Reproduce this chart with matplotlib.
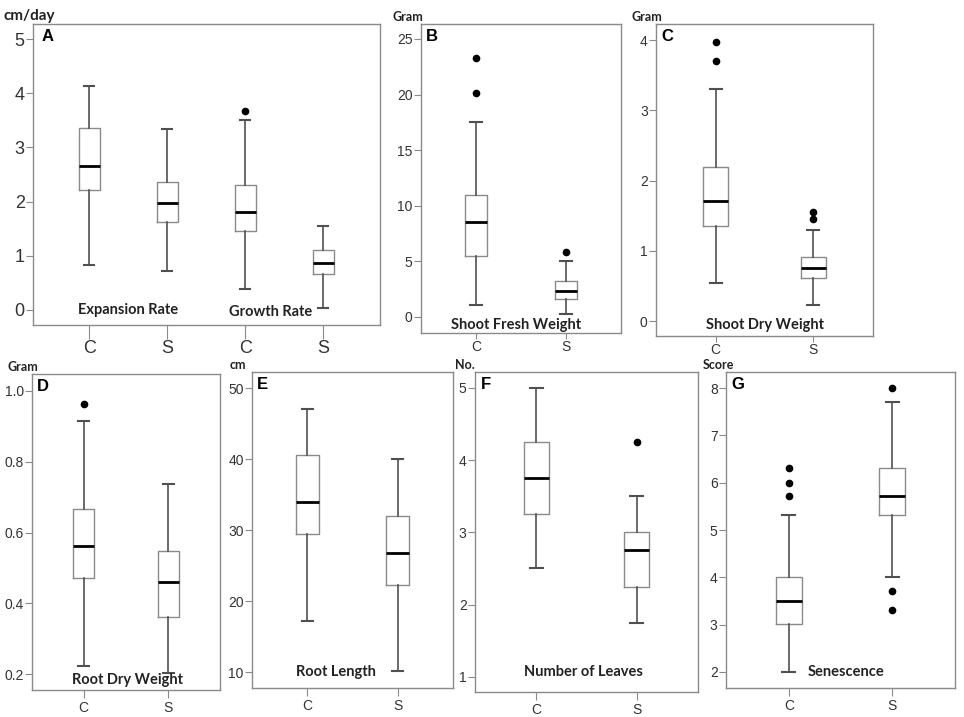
import matplotlib
matplotlib.use("Agg")
import matplotlib.pyplot as plt

# ── Box statistics: [whislo, q1, med, q3, whishi] ──
EXPANSION_C = [0.83, 2.21, 2.66, 3.36, 4.14]
EXPANSION_S = [0.71, 1.63, 1.97, 2.36, 3.35]
GROWTH_C = [0.38, 1.45, 1.80, 2.31, 3.51]
GROWTH_S = [0.04, 0.66, 0.86, 1.10, 1.55]
GROWTH_C_OUT = [3.68]

FRESH_C = [1.11, 5.49, 8.51, 11.0, 17.57]
FRESH_S = [0.30, 1.62, 2.37, 3.21, 5.0]
FRESH_C_OUT = [23.3, 20.1]
FRESH_S_OUT = [5.82]

DRY_C = [0.55, 1.35, 1.71, 2.19, 3.30]
DRY_S = [0.23, 0.61, 0.76, 0.92, 1.30]
DRY_C_OUT = [3.97, 3.71]
DRY_S_OUT = [1.56, 1.46]

ROOTDRY_C = [0.222, 0.471, 0.562, 0.666, 0.915]
ROOTDRY_S = [0.204, 0.362, 0.460, 0.549, 0.737]
ROOTDRY_C_OUT = [0.963]

ROOTLEN_C = [17.2, 29.4, 33.9, 40.5, 47.0]
ROOTLEN_S = [10.1, 22.3, 26.8, 32.0, 40.0]

LEAVES_C = [2.5, 3.26, 3.75, 4.25, 5.0]
LEAVES_S = [1.75, 2.25, 2.75, 3.0, 3.5]
LEAVES_S_OUT = [4.25]

SEN_C = [2.0, 3.01, 3.51, 4.0, 5.31]
SEN_S = [4.01, 5.32, 5.71, 6.31, 7.7]
SEN_C_OUT = [6.31, 6.0, 5.71]
SEN_S_OUT = [8.0, 3.71, 3.31]

GROUPS = ["C", "S"]

BOX_EDGE = "#8a8a8a"
WHISK = "#505050"
SPINE = "#8a8a8a"
TICK_TXT = "#333333"
LABEL_FONT = ["Lato", "DejaVu Sans"]
TICK_FONT = ["Liberation Sans", "DejaVu Sans"]


def stats(vals, fliers=()):
    lo, q1, med, q3, hi = vals
    return dict(whislo=lo, q1=q1, med=med, q3=q3, whishi=hi, fliers=list(fliers))


def draw(ax, boxes, xlabels, ylim, yticks, ytl, letter, unit, unit_x, inner, tick_fs=10,
         xtick_fs=10, xlim=(0.39, 2.61), width=0.25, xtick_len=6, unit_fs=9, xpad=2):
    ax.bxp(boxes, positions=range(1, len(boxes) + 1), widths=width, showfliers=True,
           boxprops=dict(color=BOX_EDGE, linewidth=1.0),
           whiskerprops=dict(color=WHISK, linewidth=1.2),
           capprops=dict(color=WHISK, linewidth=1.5),
           medianprops=dict(color="black", linewidth=2.0),
           flierprops=dict(marker="o", markerfacecolor="black", markeredgecolor="black",
                           markersize=4.5))
    ax.set_xlim(*xlim)
    ax.set_ylim(*ylim)
    ax.set_yticks(yticks)
    ax.set_yticklabels(ytl, fontsize=tick_fs, color=TICK_TXT, family=TICK_FONT)
    ax.set_xticks(range(1, len(boxes) + 1))
    ax.set_xticklabels(xlabels, fontsize=xtick_fs, color=TICK_TXT, family=TICK_FONT)
    ax.tick_params(axis="y", length=5, color=SPINE, pad=1)
    ax.tick_params(axis="x", length=xtick_len, color=SPINE, pad=xpad)
    for s in ax.spines.values():
        s.set_color(SPINE)
        s.set_linewidth(1.0)
    ax.text(0.025, 0.985, letter, transform=ax.transAxes, fontsize=12, fontweight="bold",
            va="top", ha="left", family=TICK_FONT)
    ax.text(unit_x, 1.004, unit, transform=ax.transAxes, fontsize=unit_fs, fontweight="bold",
            va="bottom", ha="left", family=LABEL_FONT, color="#222222")
    for (tx, ty, txt) in inner:
        ax.text(tx, ty, txt, fontsize=10.5, fontweight="bold", ha="center", va="center",
                family=LABEL_FONT, color="#222222")


fig = plt.figure(figsize=(9.64, 7.17), dpi=100)

axA = fig.add_axes([0.0342, 0.5467, 0.3600, 0.4198])
axB = fig.add_axes([0.4367, 0.5356, 0.2075, 0.4310])
axC = fig.add_axes([0.6805, 0.5314, 0.2251, 0.4351])
axD = fig.add_axes([0.0332, 0.0377, 0.1950, 0.4407])
axE = fig.add_axes([0.2614, 0.0404, 0.2085, 0.4407])
axF = fig.add_axes([0.4927, 0.0349, 0.2313, 0.4463])
axG = fig.add_axes([0.7531, 0.0404, 0.2376, 0.4407])

draw(axA, [stats(EXPANSION_C), stats(EXPANSION_S), stats(GROWTH_C, GROWTH_C_OUT), stats(GROWTH_S)],
     GROUPS * 2, (-0.28, 5.28), [0, 1, 2, 3, 4, 5], ["0", "1", "2", "3", "4", "5"], "A",
     "cm/day", -0.085, [(1.5, 0.0, "Expansion Rate"), (3.33, -0.04, "Growth Rate")],
     tick_fs=13, xtick_fs=13, xlim=(0.28, 4.73), width=0.27, xtick_len=10, unit_fs=11, xpad=1)

draw(axB, [stats(FRESH_C, FRESH_C_OUT), stats(FRESH_S, FRESH_S_OUT)], GROUPS,
     (-1.44, 26.35), [0, 5, 10, 15, 20, 25], ["0", "5", "10", "15", "20", "25"], "B",
     "Gram", -0.14, [(1.45, -0.7, "Shoot Fresh Weight")], xtick_len=4, xpad=1)

draw(axC, [stats(DRY_C, DRY_C_OUT), stats(DRY_S, DRY_S_OUT)], GROUPS,
     (-0.21, 4.23), [0, 1, 2, 3, 4], ["0", "1", "2", "3", "4"], "C",
     "Gram", -0.115, [(1.5, -0.06, "Shoot Dry Weight")], xtick_len=4, xpad=1)

draw(axD, [stats(ROOTDRY_C, ROOTDRY_C_OUT), stats(ROOTDRY_S)], GROUPS,
     (0.155, 1.048), [0.2, 0.4, 0.6, 0.8, 1.0], ["0.2", "0.4", "0.6", "0.8", "1.0"], "D",
     "Gram", -0.13, [(1.52, 0.183, "Root Dry Weight")])

draw(axE, [stats(ROOTLEN_C), stats(ROOTLEN_S)], GROUPS,
     (7.75, 52.25), [10, 20, 30, 40, 50], ["10", "20", "30", "40", "50"], "E",
     "cm", -0.11, [(1.32, 10.0, "Root Length")])

draw(axF, [stats(LEAVES_C), stats(LEAVES_S, LEAVES_S_OUT)], GROUPS,
     (0.79, 5.22), [1, 2, 3, 4, 5], ["1", "2", "3", "4", "5"], "F",
     "No.", -0.09, [(1.47, 1.07, "Number of Leaves")])

draw(axG, [stats(SEN_C, SEN_C_OUT), stats(SEN_S, SEN_S_OUT)], GROUPS,
     (1.66, 8.34), [2, 3, 4, 5, 6, 7, 8], ["2", "3", "4", "5", "6", "7", "8"], "G",
     "Score", -0.10, [(1.55, 2.0, "Senescence")])

fig.savefig("out.png", dpi=100)
